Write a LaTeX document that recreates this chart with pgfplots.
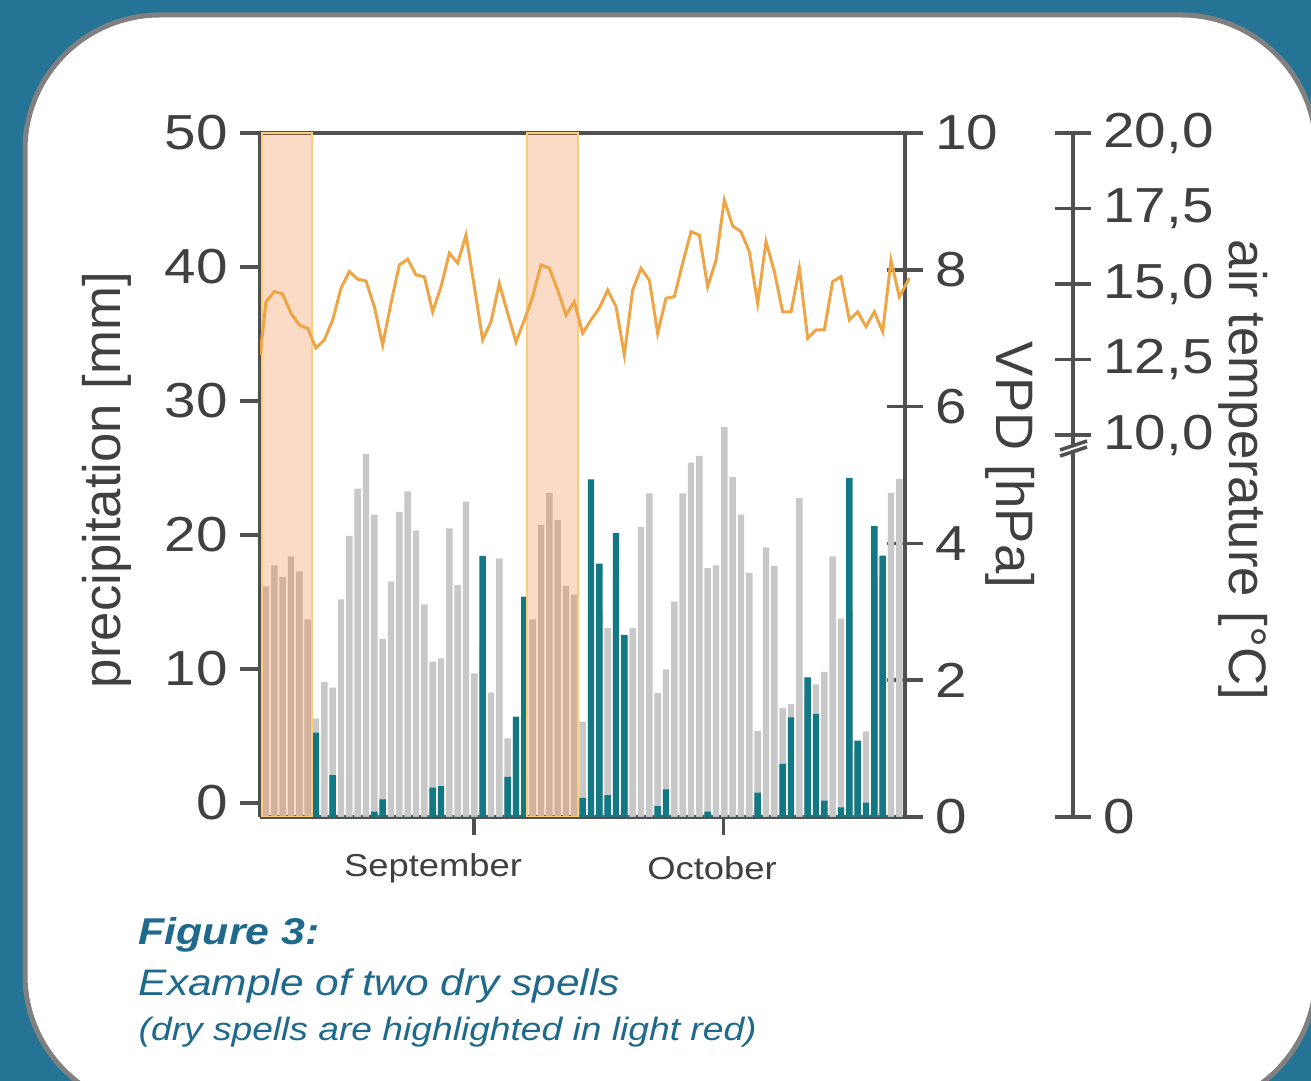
\documentclass[border=0pt]{standalone}
\usepackage{fontspec}
\setmainfont[FakeStretch=1.15]{Liberation Sans}
\newfontfamily\labfont{Liberation Sans}
\usepackage{pgfplots}
\usepackage{pgfplotstable}
\pgfplotsset{compat=1.18}
\definecolor{bgteal}{RGB}{37,116,150}
\definecolor{framegray}{RGB}{128,128,128}
\definecolor{axc}{RGB}{80,80,80}
\definecolor{txc}{RGB}{64,64,64}
\definecolor{barteal}{RGB}{18,120,132}
\definecolor{bargray}{RGB}{200,200,200}
\definecolor{lineor}{RGB}{238,165,70}
\definecolor{shadeor}{RGB}{242,110,30}
\definecolor{shadeedge}{RGB}{250,205,120}
\definecolor{capc}{RGB}{31,106,140}

\pgfplotstableread{
k vpd pr
0 3.37 0
1 3.68 0
2 3.51 0
3 3.81 0
4 3.59 0
5 2.89 0
6 1.44 6.29
7 1.97 0
8 1.89 3.13
9 3.18 0
10 4.11 0
11 4.80 0
12 5.31 0
13 4.42 0.4
14 2.60 1.32
15 3.44 0
16 4.46 0
17 4.76 0
18 4.19 0
19 3.11 0
20 2.27 2.19
21 2.32 2.31
22 4.22 0
23 3.39 0
24 4.61 0
25 2.10 0
26 2.50 19.48
27 1.82 0
28 3.78 0
29 1.15 3.00
30 1.00 7.49
31 2.00 16.44
32 2.89 0
33 4.27 0
34 4.74 0
35 4.34 0
36 3.38 0
37 3.25 0
38 1.39 1.42
39 3.00 25.2
40 3.00 18.9
41 2.76 1.64
42 3.50 21.2
43 2.00 13.6
44 2.76 0
45 4.24 0
46 4.73 0
47 1.81 0.82
48 2.16 2.07
49 3.15 0
50 4.73 0
51 5.18 0
52 5.28 0
53 3.64 0.4
54 3.68 0
55 5.70 0
56 4.97 0
57 4.42 0
58 3.57 0
59 1.26 1.81
60 3.94 0
61 3.67 0
62 1.59 3.96
63 1.65 7.44
64 4.66 0
65 1.80 10.42
66 1.94 7.69
67 2.12 1.22
68 3.81 0
69 2.90 0.72
70 3.00 25.3
71 1.00 5.70
72 1.25 1.07
73 3.50 21.7
74 3.50 19.5
75 4.74 0
76 4.94 0
}\bars

\pgfplotstableread{
k t
-0.7 12.65
0 14.41
1 14.75
2 14.67
3 14.03
4 13.64
5 13.53
6 12.88
7 13.15
8 13.81
9 14.86
10 15.41
11 15.16
12 15.10
13 14.25
14 12.98
15 14.37
16 15.63
17 15.82
18 15.30
19 15.24
20 14.08
21 14.91
22 16.02
23 15.69
24 16.62
25 14.91
26 13.15
27 13.75
28 15.02
29 14.03
30 13.08
31 13.81
32 14.58
33 15.63
34 15.52
35 14.80
36 13.97
37 14.41
38 13.37
39 13.81
40 14.20
41 14.80
42 14.25
43 12.65
44 14.80
45 15.52
46 15.13
47 13.37
48 14.53
49 14.58
50 15.69
51 16.73
52 16.62
53 14.91
54 15.79
55 17.78
56 16.92
57 16.73
58 16.07
59 14.36
60 16.40
61 15.41
62 14.08
63 14.08
64 15.52
65 13.20
66 13.48
67 13.48
68 15.08
69 15.24
70 13.81
71 14.08
72 13.59
73 14.08
74 13.42
75 15.79
76 14.57
77.2 15.20
}\temps

\begin{document}
\begin{tikzpicture}[x=1cm,y=1cm]
\clip (0,0) rectangle (13.11,-10.81);
\fill[bgteal] (0,0) rectangle (13.11,-10.81);
\draw[framegray, line width=0.05cm, fill=white, rounded corners=1.35cm] (0.25,-0.15) rectangle (13.16,-11.10);

% VPD axis (gray bars, right axis, bottom line)
\begin{axis}[
  at={(2.60cm,-8.17cm)}, anchor=south west, scale only axis,
  width=6.45cm, height=6.84cm,
  xmin=-0.72, xmax=76.68, ymin=0, ymax=10,
  axis x line*=bottom, axis y line*=right,
  axis line style={-, draw=axc, line width=1.1pt},
  xtick={24.95,54.9}, xticklabels={{},{}},
  ytick={0,2,4,6,8,10},
  tick align=center, major tick length=0.36cm,
  tick style={draw=axc, line width=1pt},
  yticklabel style={font=\fontsize{14}{14}\selectfont, text=txc},
  /pgf/number format/assume math mode=true,
]
\addplot[ybar, bar width=0.064cm, bar shift=0pt, fill=bargray, draw=none] table[x=k,y=vpd]{\bars};
\end{axis}

% precipitation axis (teal bars, left axis, top line)
\begin{axis}[
  at={(2.60cm,-8.17cm)}, anchor=south west, scale only axis,
  width=6.45cm, height=6.84cm,
  xmin=-0.72, xmax=76.68, ymin=0, ymax=51.045,
  axis x line*=top, axis y line*=left,
  axis line style={-, draw=axc, line width=1.1pt},
  xtick=\empty,
  ytick={1.045,11.045,21.045,31.045,41.045,51.045},
  yticklabels={0,10,20,30,40,50},
  tick align=outside, major tick length=0.2cm,
  tick style={draw=axc, line width=1pt},
  yticklabel style={font=\fontsize{14}{14}\selectfont, text=txc},
  /pgf/number format/assume math mode=true,
]
\addplot[ybar, bar width=0.064cm, bar shift=0pt, fill=barteal, draw=none] table[x=k,y=pr]{\bars};
\addplot[fill=shadeor, fill opacity=0.25, draw=shadeedge, line width=0.6pt] coordinates {(-0.48,0) (-0.48,51.045) (5.52,51.045) (5.52,0)} \closedcycle;
\addplot[fill=shadeor, fill opacity=0.25, draw=shadeedge, line width=0.6pt] coordinates {(31.32,0) (31.32,51.045) (37.44,51.045) (37.44,0)} \closedcycle;
\end{axis}

% air temperature axis
\begin{axis}[
  at={(2.60cm,-8.17cm)}, anchor=south west, scale only axis,
  width=8.13cm, height=6.84cm,
  xmin=-0.72, xmax=96.84, ymin=-2.649, ymax=20,
  axis x line=none, axis y line*=right,
  axis line style={-, draw=axc, line width=1.1pt},
  ytick={-2.649,10,12.5,15,17.5,20},
  yticklabels={0,{10,0},{12,5},{15,0},{17,5},{20,0}},
  tick align=center, major tick length=0.36cm,
  tick style={draw=axc, line width=1pt},
  yticklabel style={font=\fontsize{14}{14}\selectfont, text=txc},
  /pgf/number format/assume math mode=true,
]
\addplot[lineor, line width=0.85pt, mark=none] table[x=k,y=t]{\temps};
\end{axis}

% axis break on temperature axis
\fill[white] (10.60,-4.50) -- (10.87,-4.41) -- (10.87,-4.47) -- (10.60,-4.56) -- cycle;
\draw[axc, line width=1pt] (10.60,-4.50) -- (10.87,-4.41);
\draw[axc, line width=1pt] (10.60,-4.56) -- (10.87,-4.47);

% axis titles
\node[rotate=90, font=\labfont\fontsize{15}{15}\selectfont, text=txc] at (1.07,-4.80) {precipitation [mm]};
\node[rotate=-90, font=\labfont\fontsize{15}{15}\selectfont, text=txc] at (10.10,-4.65) {VPD [hPa]};
\node[rotate=-90, font=\labfont\fontsize{15}{15}\selectfont, text=txc] at (12.43,-4.70) {air temperature [°C]};

% month labels
\node[font=\fontsize{9}{9}\selectfont, text=txc] at (4.33,-8.68) {September};
\node[font=\fontsize{9}{9}\selectfont, text=txc] at (7.12,-8.68) {October};

% caption
\node[anchor=base west, font=\bfseries\itshape\fontsize{10.6}{12}\selectfont, text=capc, inner sep=0pt] at (1.38,-9.45) {Figure 3:};
\node[anchor=base west, font=\itshape\fontsize{10.5}{12}\selectfont, text=capc, inner sep=0pt] at (1.38,-9.95) {Example of two dry spells};
\node[anchor=base west, font=\itshape\fontsize{9.2}{11}\selectfont, text=capc, inner sep=0pt] at (1.38,-10.40) {(dry spells are highlighted in light red)};
\end{tikzpicture}
\end{document}
